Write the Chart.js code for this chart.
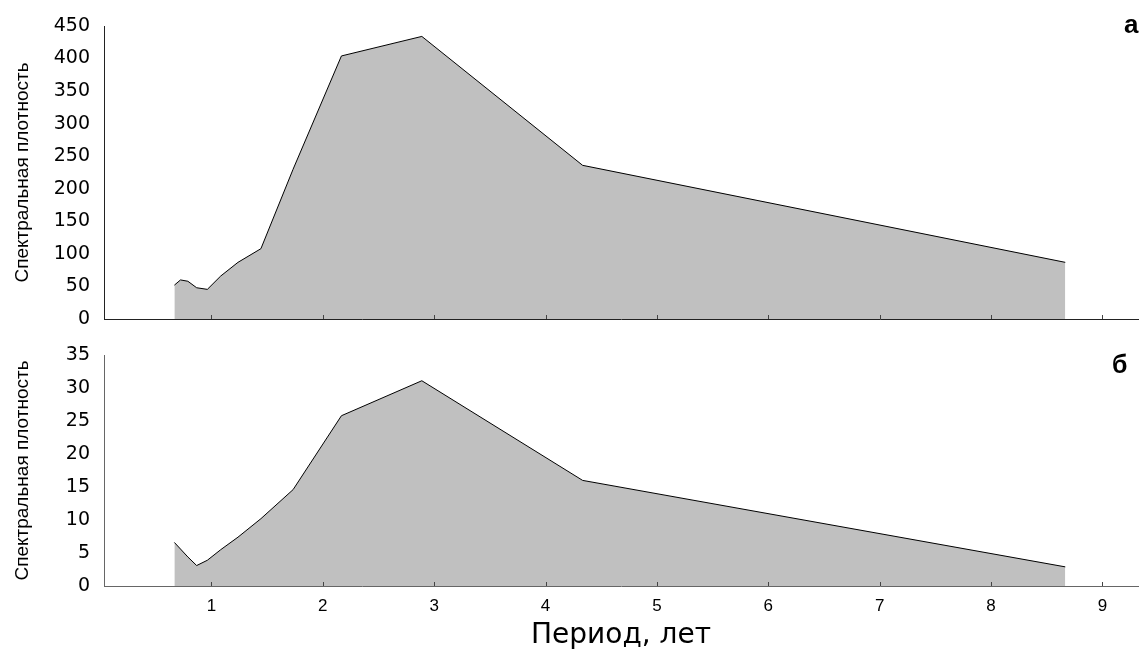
<!DOCTYPE html>
<html>
<head>
<meta charset="utf-8">
<script src="https://cdn.jsdelivr.net/npm/chart.js@4"></script>
<style>
    body { margin: 0; background: #fff; }
    #wrap { position: relative; width: 1144px; height: 657px; overflow: hidden; }
    canvas { position: absolute; left: 0; }
    .panel { position: absolute; font: bold 26px 'Liberation Sans', Arial, sans-serif; line-height: 26px; color: #000; }
</style>
</head>
<body>
<div id="wrap">
    <canvas id="chart-a" width="1144" height="340" style="top:0"></canvas>
    <canvas id="chart-b" width="1144" height="327" style="top:330px"></canvas>
    <span class="panel" style="left:1124px; top:11px">а</span>
    <span class="panel" style="left:1112px; top:352px; font-size:25px; line-height:25px">б</span>
</div>
<script>
// period, years
const periods = [0.667, 0.722, 0.788, 0.867, 0.963, 1.083, 1.238, 1.444, 1.733, 2.167, 2.889, 4.333, 8.667];
const densityA = [52, 60, 58, 48, 45.5, 66, 87, 108, 230, 404, 434, 236, 87];
const densityB = [6.6, 5.6, 4.4, 3.1, 3.9, 5.5, 7.4, 10.2, 14.6, 25.8, 31.1, 16.0, 2.9];
const xTicks = [1, 2, 3, 4, 5, 6, 7, 8, 9];

const yTitle = 'Спектральная плотность';
const xTitle = 'Период, лет';

// small tick marks pointing up into the plot
const innerTicks = {
    id: 'innerTicks',
    afterDatasetsDraw(chart) {
        const ctx = chart.ctx;
        const x = chart.scales.x;
        const bottom = chart.chartArea.bottom;
        ctx.save();
        ctx.strokeStyle = '#444';
        ctx.lineWidth = 1;
        xTicks.forEach(v => {
            const px = Math.round(x.getPixelForValue(v)) + 0.5;
            ctx.beginPath();
            ctx.moveTo(px, bottom);
            ctx.lineTo(px, bottom - 4);
            ctx.stroke();
        });
        ctx.restore();
    }
};

function makeChart(canvas, values, yMax, yStep, axisColor, showX) {
    return new Chart(canvas, {
        type: 'line',
        data: {
            datasets: [{
                data: periods.map((p, i) => ({ x: p, y: values[i] })),
                borderColor: '#000',
                borderWidth: 1,
                backgroundColor: '#c0c0c0',
                fill: 'origin',
                pointRadius: 0,
                tension: 0
            }]
        },
        options: {
            responsive: false,
            animation: false,
            devicePixelRatio: 1,
            layout: { padding: { left: 0, right: 6, top: showX ? 25 : 26, bottom: showX ? 0 : 21 } },
            plugins: { legend: { display: false }, tooltip: { enabled: false } },
            scales: {
                x: {
                    type: 'linear',
                    min: 0.035,
                    max: 9.32,
                    afterBuildTicks: s => { s.ticks = xTicks.map(v => ({ value: v })); },
                    afterFit: s => { s.height = showX ? 71 : 0; },
                    grid: { display: false, drawTicks: false },
                    border: { display: true, color: axisColor, width: 1 },
                    ticks: {
                        display: showX,
                        autoSkip: false,
                        maxRotation: 0,
                        padding: 10,
                        color: '#000',
                        font: { family: "'Liberation Sans', Arial, sans-serif", size: 17 }
                    },
                    title: {
                        display: showX,
                        text: xTitle,
                        color: '#000',
                        padding: { top: 0, bottom: 4 },
                        font: { family: "'DejaVu Sans', sans-serif", size: 28 }
                    }
                },
                y: {
                    min: 0,
                    max: yMax,
                    afterFit: s => { s.width = 104; },
                    grid: { display: true, drawOnChartArea: false, drawTicks: true, tickLength: 14, color: 'transparent', tickColor: 'transparent' },
                    border: { display: true, color: axisColor, width: 1 },
                    ticks: {
                        stepSize: yStep,
                        padding: 0,
                        color: '#000',
                        font: { family: "'DejaVu Sans', sans-serif", size: 19 }
                    },
                    title: {
                        display: true,
                        text: yTitle,
                        color: '#000',
                        padding: { top: 11, bottom: 0 },
                        font: { family: "'Liberation Sans', Arial, sans-serif", size: 19 }
                    }
                }
            }
        },
        plugins: [innerTicks]
    });
}

makeChart(document.getElementById('chart-a'), densityA, 450, 50, '#222', false);
makeChart(document.getElementById('chart-b'), densityB, 35, 5, '#666', true);
</script>
</body>
</html>
